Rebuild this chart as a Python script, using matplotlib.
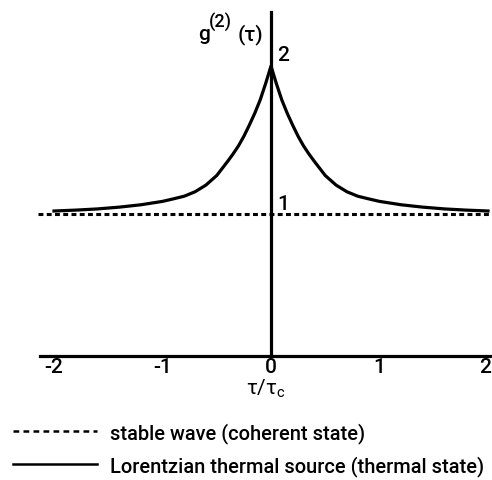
import matplotlib
matplotlib.use("Agg")
import matplotlib.pyplot as plt
from matplotlib.lines import Line2D
from matplotlib.transforms import ScaledTranslation

plt.rcParams["font.family"] = ["Roboto", "DejaVu Sans"]
plt.rcParams["font.weight"] = "medium"
plt.rcParams["mathtext.fontset"] = "custom"
plt.rcParams["mathtext.rm"] = "Roboto:medium"

# --- data ---
tau = [-2.0, -1.8, -1.6, -1.4, -1.2, -1.0, -0.9, -0.8, -0.7, -0.6, -0.5,
       -0.4, -0.35, -0.3, -0.25, -0.2, -0.15, -0.1, -0.05, 0.0,
       0.05, 0.1, 0.15, 0.2, 0.25, 0.3, 0.35, 0.4,
       0.5, 0.6, 0.7, 0.8, 0.9, 1.0, 1.2, 1.4, 1.6, 1.8, 2.0]
g2_thermal = [1.02, 1.026, 1.034, 1.046, 1.062, 1.085, 1.102, 1.12, 1.15, 1.195, 1.26,
              1.355, 1.405, 1.46, 1.525, 1.60, 1.68, 1.77, 1.88, 2.0,
              1.88, 1.77, 1.68, 1.60, 1.525, 1.46, 1.405, 1.355,
              1.26, 1.195, 1.15, 1.12, 1.102, 1.085, 1.062, 1.046, 1.034, 1.026, 1.02]
tau_coherent = [-2.15, 2.04]
g2_coherent = [1.0, 1.0]

xticks = [-2, -1, 0, 1, 2]
xtick_labels = ["-2", "-1", "0", "1", "2"]

fig = plt.figure(figsize=(4.92, 4.81), dpi=100)
ax = fig.add_axes([40 / 492, 124 / 481, 452 / 492, 344 / 481])
ax.set_xlim(-2.129, 2.037)
ax.set_ylim(0.04, 2.365)

ax.plot(tau_coherent, g2_coherent, color="black", lw=2.2,
        linestyle=(0, (1.6, 1.1)), clip_on=False)
ax.plot(tau, g2_thermal, color="black", lw=2.3, solid_joinstyle="round")

# axes drawn as a cross
for side in ["top", "right"]:
    ax.spines[side].set_visible(False)
ax.spines["left"].set_position(("data", 0))
ax.spines["left"].set_linewidth(2.3)
ax.spines["bottom"].set_linewidth(2.3)
ax.spines["left"].set_zorder(3)

ax.set_yticks([])
ax.set_xticks(xticks)
ax.set_xticklabels(xtick_labels, fontsize=15)
ax.tick_params(axis="x", length=0, pad=1)
# last label sits right at the figure edge, pull it in a little
last = ax.get_xticklabels()[-1]
last.set_transform(last.get_transform() + ScaledTranslation(-3 / 100, 0, fig.dpi_scale_trans))
ax.set_xlabel(r"τ/τ$_\mathregular{c}$", fontsize=15, labelpad=0)

ax.text(0.055, 2.04, "2", fontsize=15, ha="left", va="baseline")
ax.text(0.055, 1.035, "1", fontsize=15, ha="left", va="baseline")
ax.text(-0.673, 2.18, "g", fontsize=15, ha="left", va="baseline")
ax.text(-0.57, 2.265, "(2)", fontsize=13, ha="left", va="baseline")
ax.text(-0.074, 2.18, "(τ)", fontsize=15, ha="right", va="baseline")

handles = [
    Line2D([], [], color="black", lw=1.8, linestyle=(0, (2.3, 1.7))),
    Line2D([], [], color="black", lw=1.8),
]
labels = ["stable wave (coherent state)", "Lorentzian thermal source (thermal state)"]
fig.legend(handles, labels, loc="upper left", bbox_to_anchor=(0.026, 0.121),
           frameon=False, fontsize=14.4, handlelength=4.2, handletextpad=0.65,
           labelspacing=0.62, borderaxespad=0.0, borderpad=0.0)

fig.savefig("out.png", dpi=100, facecolor="white")
